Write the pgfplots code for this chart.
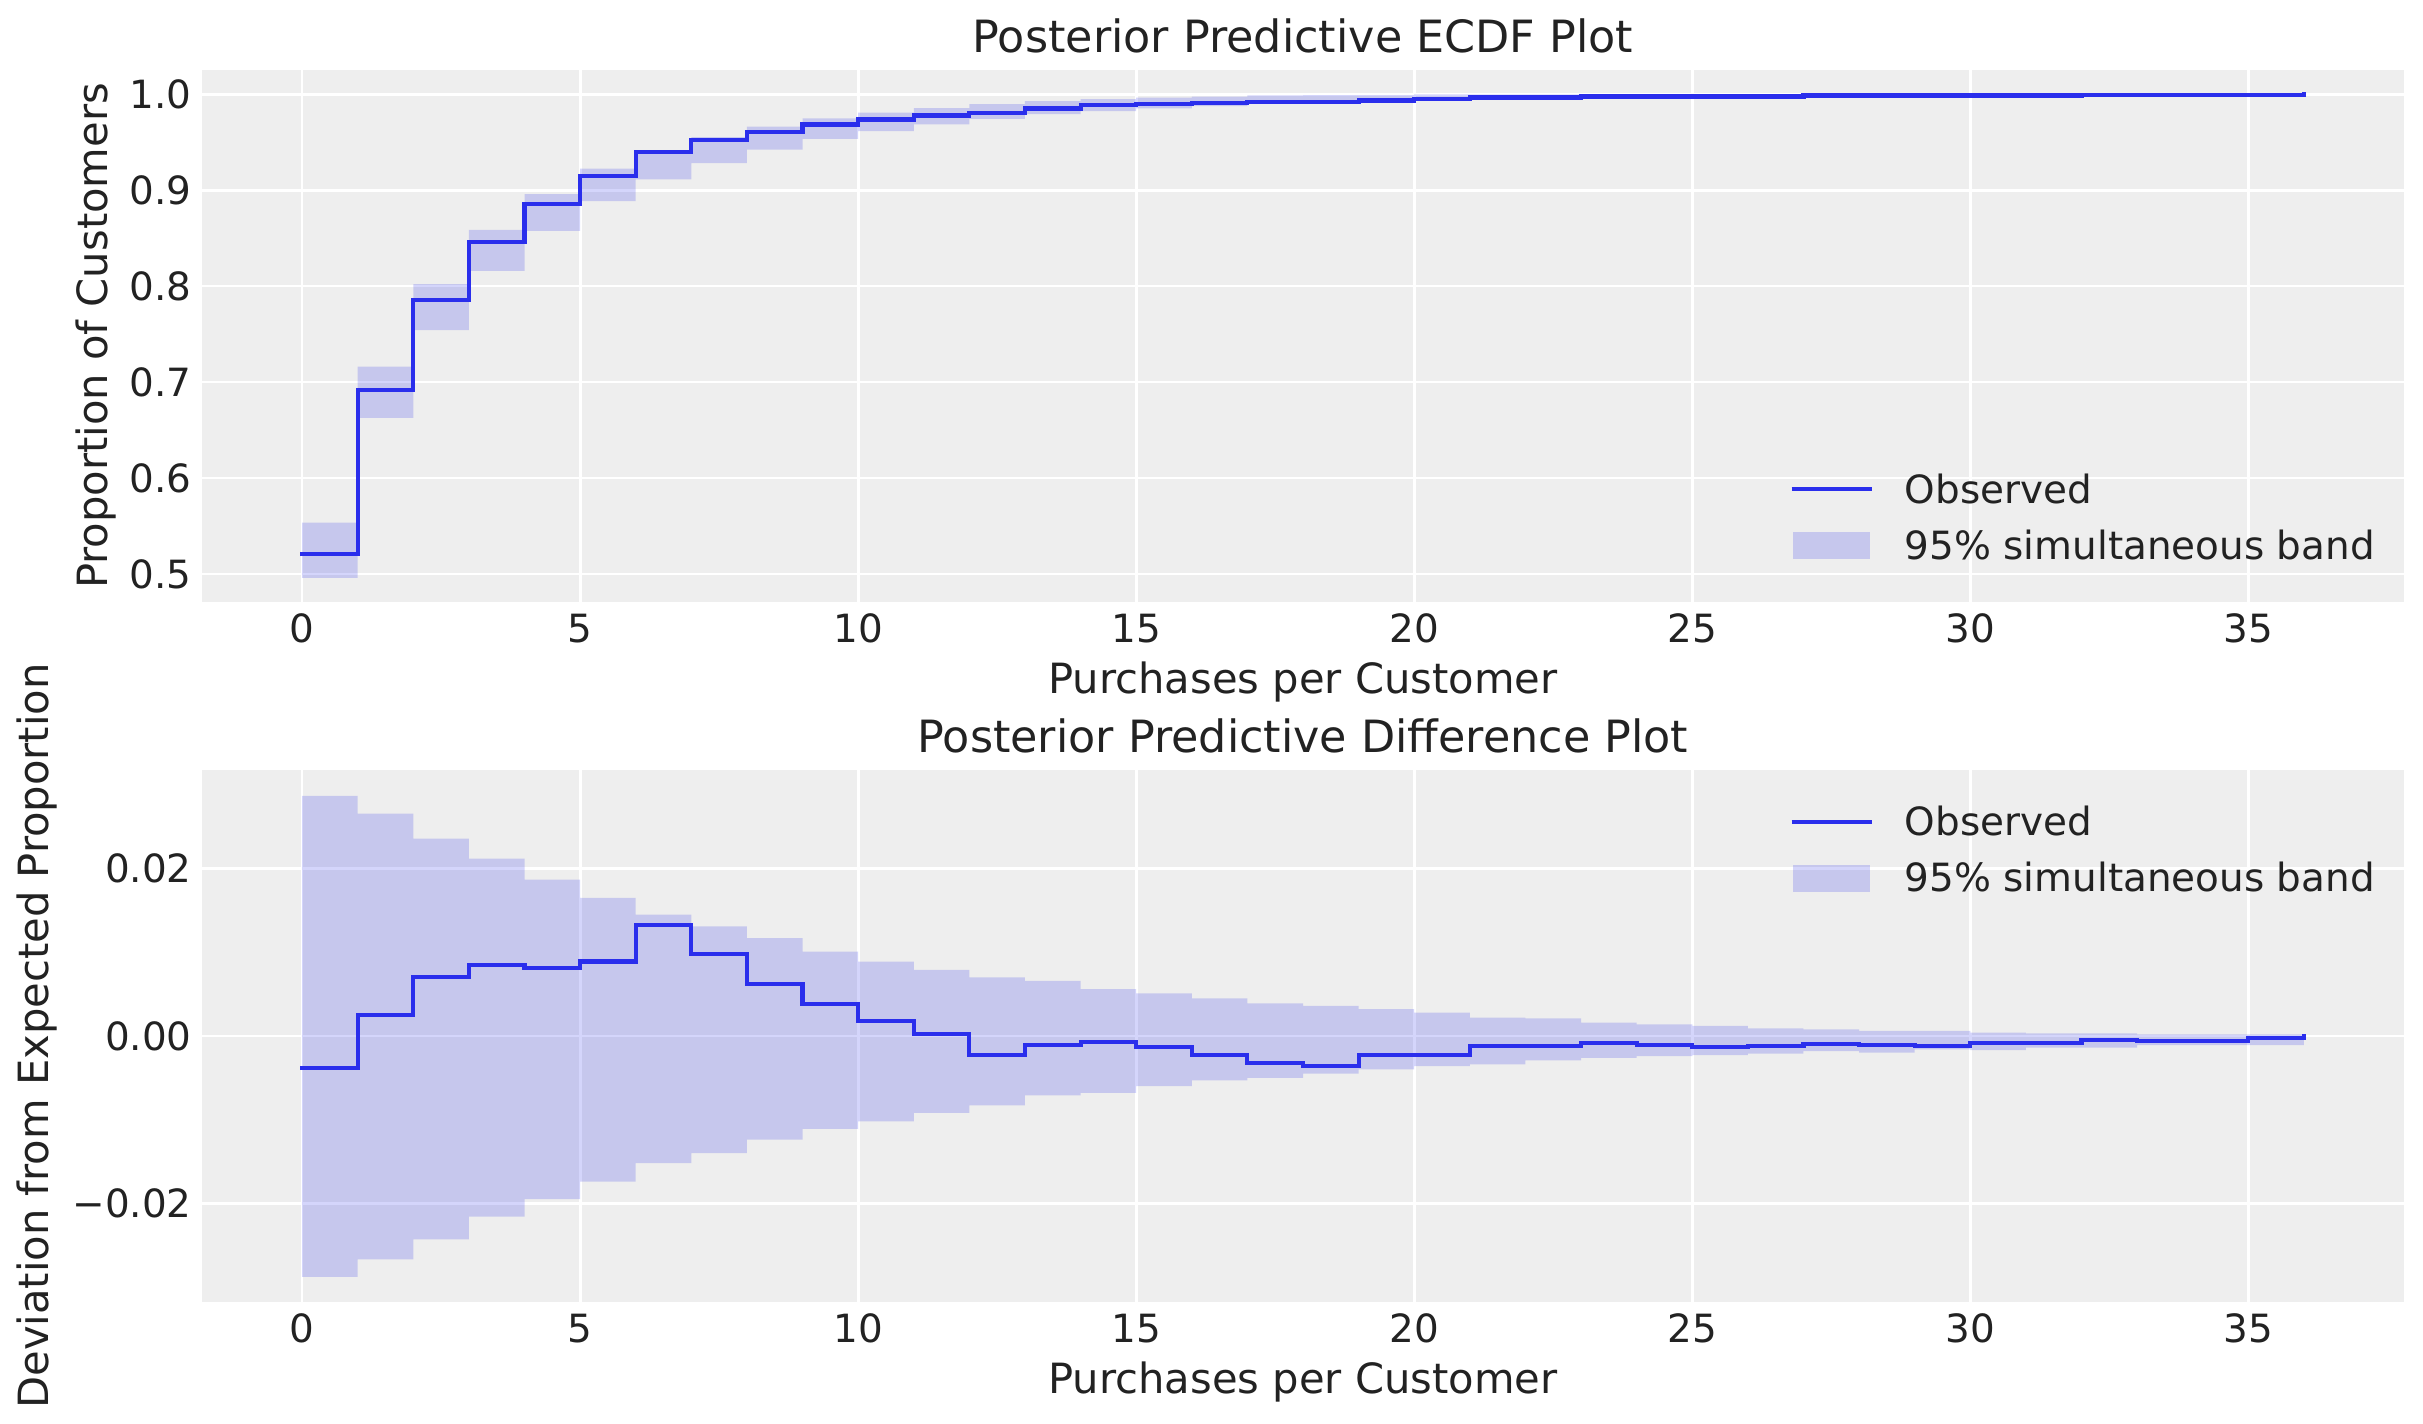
\documentclass[border=0pt]{standalone}
\usepackage{fontspec}
\setmainfont{DejaVu Sans}
\usepackage{pgfplots}
\pgfplotsset{compat=1.18}
\usepackage{pgfplotstable}
\usepgfplotslibrary{fillbetween}
\definecolor{obs}{HTML}{2A2EEC}
\definecolor{bg}{HTML}{EEEEEE}
\definecolor{txt}{HTML}{222222}

\pgfplotstableread{
x obs lo hi
0 0.5210 0.4960 0.5535
1 0.6920 0.6628 0.7161
2 0.7856 0.7542 0.8021
3 0.8460 0.8159 0.8587
4 0.8852 0.8576 0.8958
5 0.9148 0.8885 0.9224
6 0.9396 0.9111 0.9408
7 0.9520 0.9282 0.9553
8 0.9608 0.9422 0.9663
9 0.9684 0.9535 0.9747
10 0.9736 0.9616 0.9807
11 0.9778 0.9684 0.9855
12 0.9802 0.9742 0.9895
13 0.9851 0.9791 0.9928
14 0.9885 0.9824 0.9948
15 0.9899 0.9852 0.9963
16 0.9906 0.9876 0.9974
17 0.9917 0.9899 0.9988
18 0.9917 0.9908 0.9989
19 0.9934 0.9917 0.9989
20 0.9948 0.9935 0.9999
21 0.9965 0.9943 0.9999
22 0.9965 0.9948 0.9998
23 0.9976 0.9958 1.0000
24 0.9976 0.9963 1.0000
25 0.9976 0.9966 1.0000
26 0.9976 0.9967 0.9997
27 0.9986 0.9978 1.0000
28 0.9986 0.9977 1.0000
29 0.9986 0.9982 1.0000
30 0.9986 0.9977 0.9998
31 0.9986 0.9980 0.9997
32 0.9994 0.9985 1.0000
33 0.9994 0.9989 1.0000
34 0.9994 0.9989 1.0000
35 0.9994 0.9985 0.9998
36 1.0000 0.9985 0.9998
}\topdata

\pgfplotstableread{
x obs lo hi
0 -0.0038 -0.0288 0.0287
1 0.0025 -0.0267 0.0266
2 0.0071 -0.0243 0.0236
3 0.0085 -0.0216 0.0212
4 0.0081 -0.0195 0.0187
5 0.0089 -0.0174 0.0165
6 0.0133 -0.0152 0.0145
7 0.0098 -0.0140 0.0131
8 0.0062 -0.0124 0.0117
9 0.0038 -0.0111 0.0101
10 0.0018 -0.0102 0.0089
11 0.0002 -0.0092 0.0079
12 -0.0023 -0.0083 0.0070
13 -0.0011 -0.0071 0.0066
14 -0.0007 -0.0068 0.0056
15 -0.0013 -0.0060 0.0051
16 -0.0023 -0.0053 0.0045
17 -0.0032 -0.0050 0.0039
18 -0.0036 -0.0045 0.0036
19 -0.0023 -0.0040 0.0032
20 -0.0023 -0.0036 0.0028
21 -0.0012 -0.0034 0.0022
22 -0.0012 -0.0029 0.0021
23 -0.0008 -0.0026 0.0016
24 -0.0011 -0.0024 0.0014
25 -0.0013 -0.0023 0.0012
26 -0.0012 -0.0021 0.0009
27 -0.0010 -0.0018 0.0008
28 -0.0011 -0.0020 0.0006
29 -0.0012 -0.0016 0.0006
30 -0.0008 -0.0017 0.0004
31 -0.0008 -0.0014 0.0003
32 -0.0005 -0.0014 0.0003
33 -0.0006 -0.0011 0.0002
34 -0.0006 -0.0011 0.0002
35 -0.0002 -0.0011 0.0002
36 0.0000 -0.0011 0.0002
}\diffdata

\pgfplotsset{
  arviz/.style={
    scale only axis, width=792.72pt, height=191.52pt,
    xmin=-1.8, xmax=37.8,
    axis background/.style={fill=bg},
    axis line style={draw=none},
    major tick length=0pt,
    grid=major, grid style={white, line width=1pt},
    scaled y ticks=false, scaled x ticks=false,
    xtick={0,5,...,35}, xticklabels={0,5,10,15,20,25,30,35},
    ticklabel style={font=\fontsize{14}{16}\selectfont, text=txt, inner sep=0pt},
    xticklabel style={anchor=base, yshift=-14.4pt},
    yticklabel style={anchor=east, xshift=-3.5pt},
    title style={at={(0.5,1)}, anchor=base, yshift=0.3pt, inner sep=0pt, font=\fontsize{16}{19}\selectfont, text=txt},
    xlabel style={at={(axis description cs:0.5,0)}, anchor=base, yshift=-32.76pt, inner sep=0pt, font=\fontsize{15}{18}\selectfont, text=txt},
    ylabel style={anchor=base, inner sep=0pt, font=\fontsize{15}{18}\selectfont, text=txt},
    legend style={draw=none, fill=none, inner sep=0pt, outer sep=0pt,
      column sep=11pt, row sep=10pt,
      nodes={inner sep=0pt, text height=10.2pt, text depth=0pt, font=\fontsize{14}{16}\selectfont, text=txt},
      cells={anchor=base west}, anchor=south west},
    xlabel={Purchases per Customer},
  },
  obsline/.style={obs, line width=1.5pt, line cap=rect},
  obsleg/.style={legend image code/.code={\draw[obs, line width=1.5pt] (0pt,5.1pt) -- (29pt,5.1pt);}},
  bandleg/.style={legend image code/.code={\path[fill=obs, fill opacity=0.2, draw=none] (0.5pt,0pt) rectangle (28.2pt,9.7pt);}},
}

\begin{document}
\begin{tikzpicture}

\begin{axis}[arviz,
  at={(72.72pt,295.56pt)}, anchor=south west,
  ymin=0.4708, ymax=1.0252,
  ytick={0.5,0.6,0.7,0.8,0.9,1.0},
  yticklabels={0.5,0.6,0.7,0.8,0.9,1.0},
  title={Posterior Predictive ECDF Plot},
  ylabel={Proportion of Customers},
  ylabel style={at={(axis description cs:-0.0427,0.5)}},
  legend style={at={(0.7210,0.0803)}},
]
\addlegendimage{obsleg}
\addlegendentry{Observed}
\addlegendimage{bandleg}
\addlegendentry{95\% simultaneous band}
\addplot[name path=tu, const plot, draw=none, forget plot] table[x=x, y=hi] {\topdata};
\addplot[name path=tl, const plot, draw=none, forget plot] table[x=x, y=lo] {\topdata};
\addplot[fill=obs, fill opacity=0.2, draw=none, forget plot] fill between[of=tu and tl];
\addplot[obsline, const plot, forget plot] table[x=x, y=obs] {\topdata};
\end{axis}

\begin{axis}[arviz,
  at={(72.72pt,43.56pt)}, anchor=south west,
  ymin=-0.0318, ymax=0.0318,
  ytick={-0.02,0,0.02},
  yticklabels={−0.02,0.00,0.02},
  title={Posterior Predictive Difference Plot},
  ylabel={Deviation from Expected Proportion},
  ylabel style={at={(axis description cs:-0.0699,0.5)}},
  legend style={at={(0.7210,0.7707)}},
]
\addlegendimage{obsleg}
\addlegendentry{Observed}
\addlegendimage{bandleg}
\addlegendentry{95\% simultaneous band}
\addplot[name path=du, const plot, draw=none, forget plot] table[x=x, y=hi] {\diffdata};
\addplot[name path=dl, const plot, draw=none, forget plot] table[x=x, y=lo] {\diffdata};
\addplot[fill=obs, fill opacity=0.2, draw=none, forget plot] fill between[of=du and dl];
\addplot[obsline, const plot, forget plot] table[x=x, y=obs] {\diffdata};
\end{axis}
\pgfresetboundingbox
\useasboundingbox (0,0) rectangle (872.28pt,512.28pt);
\end{tikzpicture}
\end{document}
